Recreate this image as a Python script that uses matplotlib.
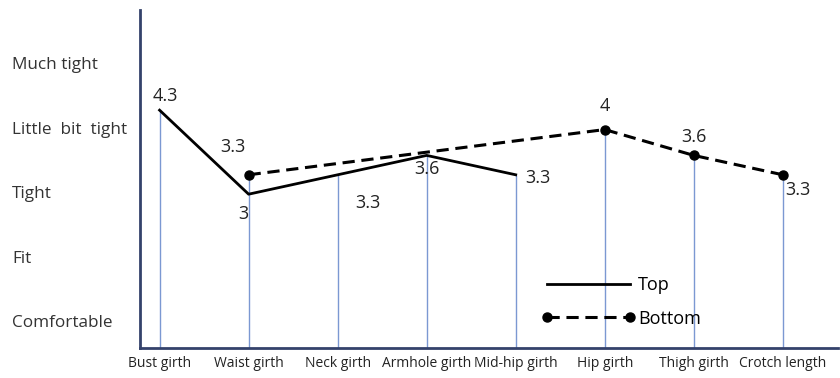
import numpy as np
import matplotlib
matplotlib.use("Agg")
import matplotlib.pyplot as plt

plt.rcParams['font.family'] = ['Open Sans', 'DejaVu Sans']

# data
categories = ["Bust girth", "Waist girth", "Neck girth", "Armhole girth",
              "Mid-hip girth", "Hip girth", "Thigh girth", "Crotch length"]
top_values = [4.3, 3.0, 3.3, 3.6, 3.3, np.nan, np.nan, np.nan]
bottom_values = [np.nan, 3.3, np.nan, np.nan, np.nan, 4.0, 3.6, 3.3]
level_labels = ["Comfortable", "Fit", "Tight", "Little  bit  tight", "Much tight"]
level_values = [1, 2, 3, 4, 5]

# label offsets (points) for the value annotations
top_offsets = [(4, 10), (-4, -14), (22, -20), (0, -10), (16, -2)]
bottom_offsets = [(-11, 20), (0, 17), (0, 13), (11, -11)]

top = np.array(top_values)
bottom = np.array(bottom_values)
x = np.arange(len(categories))

fig = plt.figure(figsize=(8.4, 3.78), dpi=100)
ax = fig.add_axes([140 / 840, 30 / 378, 698 / 840, 338 / 378])

axis_col = '#34426b'
drop_col = '#7b98d2'

# drop lines from the axis up to each point
drop = np.fmax(np.nan_to_num(top, nan=0), np.nan_to_num(bottom, nan=0))
ymin, ymax = 0.62, 5.85
ax.vlines(x, ymin, drop, color=drop_col, lw=1.0, zorder=1)

mt = ~np.isnan(top)
mb = ~np.isnan(bottom)
ax.plot(x[mt], top[mt], color='black', lw=2.0, label='Top', zorder=3)
ax.plot(x[mb], bottom[mb], color='black', lw=2.2, ls=(0, (4, 2.2)),
        marker='o', ms=6.5, label='Bottom', zorder=3)

for xi, yi, off in zip(x[mt], top[mt], top_offsets):
    ax.annotate(f"{yi:g}", (xi, yi), xytext=off, textcoords='offset points',
                ha='center', va='center', fontsize=13, color='#222222')
for xi, yi, off in zip(x[mb], bottom[mb], bottom_offsets):
    ax.annotate(f"{yi:g}", (xi, yi), xytext=off, textcoords='offset points',
                ha='center', va='center', fontsize=13, color='#222222')

ax.set_xlim(-0.22, 7.62)
ax.set_ylim(ymin, ymax)

for s in ['top', 'right']:
    ax.spines[s].set_visible(False)
for s in ['left', 'bottom']:
    ax.spines[s].set_color(axis_col)
    ax.spines[s].set_linewidth(2.0)

ax.set_xticks(x)
ax.set_xticklabels(categories, fontsize=10, color='#222222')
ax.tick_params(axis='x', length=0, pad=6)

# y level names sit left-aligned at the figure edge
ax.set_yticks([])
trans = matplotlib.transforms.blended_transform_factory(fig.transFigure, ax.transData)
for v, lab in zip(level_values, level_labels):
    ax.text(12 / 840, v, lab, transform=trans, ha='left', va='center',
            fontsize=12.3, color='#333333')

leg = ax.legend(loc='upper left', bbox_to_anchor=(0.565, 0.233), frameon=False,
                fontsize=13, handlelength=5.2, handletextpad=0.15, numpoints=2,
                labelspacing=0.85, borderaxespad=0)

fig.savefig('out.png', dpi=100)
